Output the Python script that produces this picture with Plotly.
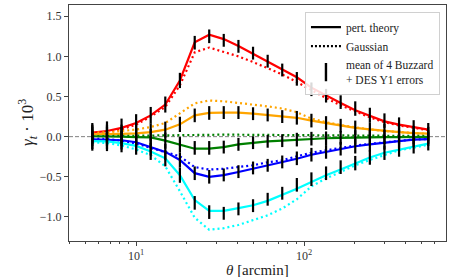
import plotly.graph_objects as go

theta = [5.48, 6.70, 8.18, 9.99, 12.2, 14.9, 18.2, 22.3, 27.2, 33.2, 40.6, 49.6,
         60.6, 74.0, 90.4, 110.4, 134.9, 164.8, 201.3, 245.9, 300.4, 366.9, 448.2, 547.5]

red_pt = [0.05, 0.07, 0.11, 0.17, 0.265, 0.40, 0.70, 1.175, 1.27, 1.215, 1.13, 1.03,
          0.94, 0.84, 0.74, 0.61, 0.51, 0.42, 0.33, 0.26, 0.19, 0.15, 0.115, 0.087]
red_g = [0.04, 0.06, 0.09, 0.15, 0.25, 0.37, 0.64, 1.05, 1.11, 1.06, 1.00, 0.93,
         0.85, 0.775, 0.68, 0.575, 0.48, 0.39, 0.31, 0.24, 0.18, 0.14, 0.11, 0.08]
red_mean = [0.05, 0.07, 0.11, 0.17, 0.265, 0.40, 0.70, 1.17, 1.25, 1.20, 1.125, 1.04,
            0.94, 0.83, 0.72, 0.59, 0.51, 0.43, 0.35, 0.27, 0.20, 0.15, 0.115, 0.085]

orange_pt = [0.03, 0.03, 0.035, 0.04, 0.057, 0.087, 0.153, 0.265, 0.295, 0.30, 0.30, 0.286,
             0.27, 0.25, 0.235, 0.20, 0.17, 0.137, 0.11, 0.09, 0.07, 0.057, 0.045, 0.037]
orange_g = [0.05, 0.055, 0.07, 0.088, 0.12, 0.17, 0.29, 0.415, 0.45, 0.44, 0.42, 0.40,
            0.377, 0.35, 0.305, 0.225, 0.18, 0.145, 0.115, 0.09, 0.07, 0.055, 0.045, 0.035]
orange_mean = orange_pt

green_pt = [0.005, 0.005, 0.0, -0.005, -0.01, -0.05, -0.10, -0.15, -0.15, -0.13, -0.096, -0.075,
            -0.058, -0.05, -0.037, -0.025, -0.02, -0.015, -0.01, -0.008, -0.006, -0.005, -0.005, -0.004]
green_g = [0.005, 0.008, 0.01, 0.013, 0.017, 0.02, 0.022, 0.025, 0.025, 0.025, 0.024, 0.022,
           0.02, 0.02, 0.018, 0.017, 0.015, 0.014, 0.012, 0.011, 0.01, 0.01, 0.009, 0.008]
green_mean = [0.005, 0.005, 0.0, -0.005, -0.01, -0.05, -0.10, -0.14, -0.14, -0.13, -0.096, -0.075,
              -0.058, -0.05, -0.037, -0.025, -0.02, -0.015, -0.01, -0.008, -0.006, -0.005, -0.005, -0.004]

blue_pt = [-0.034, -0.035, -0.045, -0.07, -0.13, -0.19, -0.29, -0.455, -0.50, -0.48, -0.44, -0.40,
           -0.36, -0.32, -0.275, -0.225, -0.19, -0.15, -0.12, -0.096, -0.071, -0.055, -0.037, -0.03]
blue_g = [-0.025, -0.03, -0.05, -0.085, -0.14, -0.19, -0.245, -0.38, -0.41, -0.40, -0.38, -0.357,
          -0.32, -0.295, -0.245, -0.20, -0.17, -0.14, -0.11, -0.09, -0.07, -0.05, -0.035, -0.03]
blue_mean = [-0.034, -0.035, -0.045, -0.07, -0.13, -0.19, -0.29, -0.456, -0.50, -0.477, -0.436, -0.39,
             -0.357, -0.315, -0.27, -0.225, -0.19, -0.15, -0.12, -0.096, -0.071, -0.055, -0.037, -0.03]

cyan_pt = [-0.055, -0.06, -0.08, -0.115, -0.185, -0.27, -0.48, -0.79, -0.925, -0.925, -0.89, -0.855,
           -0.80, -0.73, -0.65, -0.565, -0.48, -0.41, -0.33, -0.26, -0.20, -0.16, -0.12, -0.087]
cyan_g = [-0.07, -0.08, -0.11, -0.16, -0.23, -0.37, -0.68, -1.01, -1.16, -1.14, -1.10, -1.04,
          -0.98, -0.895, -0.78, -0.62, -0.52, -0.44, -0.357, -0.29, -0.225, -0.17, -0.137, -0.10]
cyan_mean = [-0.055, -0.06, -0.08, -0.115, -0.185, -0.27, -0.48, -0.825, -0.94, -0.955, -0.90, -0.86,
             -0.78, -0.705, -0.60, -0.53, -0.456, -0.38, -0.33, -0.26, -0.20, -0.16, -0.12, -0.087]

err = [0.12, 0.12, 0.115, 0.11, 0.105, 0.10, 0.095, 0.085, 0.085, 0.08, 0.08, 0.08,
       0.08, 0.08, 0.085, 0.085, 0.085, 0.085, 0.09, 0.09, 0.09, 0.09, 0.09, 0.085]

series = [
    ("red", red_pt, red_g, red_mean),
    ("orange", orange_pt, orange_g, orange_mean),
    ("green", green_pt, green_g, green_mean),
    ("blue", blue_pt, blue_g, blue_mean),
    ("cyan", cyan_pt, cyan_g, cyan_mean),
]
colors = {"red": "#ff0000", "orange": "#ffa500", "green": "#008000", "blue": "#0000ff", "cyan": "#00ffff"}

FONT = "Liberation Serif, DejaVu Serif, serif"
fig = go.Figure()

for name, pt, g, mean in series:
    c = colors[name]
    fig.add_trace(go.Scatter(x=theta, y=g, mode="lines", showlegend=False,
                             line=dict(color=c, width=2.2, dash="2px,3px")))
    fig.add_trace(go.Scatter(x=theta, y=pt, mode="lines", showlegend=False,
                             line=dict(color=c, width=2.2)))

for name, pt, g, mean in series:
    fig.add_trace(go.Scatter(x=theta, y=mean, mode="markers", showlegend=False,
                             marker=dict(size=1, color="rgba(0,0,0,0)"),
                             error_y=dict(type="data", array=err, visible=True,
                                          color="black", thickness=2.2, width=0)))

# legend entries
fig.add_trace(go.Scatter(x=[None], y=[None], mode="lines", name="pert. theory",
                         line=dict(color="black", width=2.2)))
fig.add_trace(go.Scatter(x=[None], y=[None], mode="lines", name="Gaussian",
                         line=dict(color="black", width=2.2, dash="2px,2px")))
fig.add_trace(go.Scatter(x=[None], y=[None], mode="markers",
                         name="mean of 4 Buzzard<br>+ DES Y1 errors",
                         marker=dict(symbol="line-ns", size=13, color="black",
                                     line=dict(color="black", width=2.4))))

fig.add_shape(type="line", xref="paper", x0=0, x1=1, yref="y", y0=0, y1=0,
              line=dict(color="#808080", width=1, dash="4px,2px"), layer="below")

minor_vals = [4, 5, 6, 7, 8, 9, 20, 30, 40, 50, 60, 70, 80, 90, 200, 300, 400, 500, 600]

fig.update_xaxes(type="log", range=[0.600, 2.844], automargin=False,
                 tickvals=[10, 100], ticktext=["10<sup>1</sup>", "10<sup>2</sup>"],
                 ticks="outside", ticklen=4, tickwidth=1, tickcolor="#444",
                 minor=dict(tickvals=minor_vals, ticks="outside", ticklen=2, tickcolor="#444", tickwidth=1),
                 showgrid=False, zeroline=False, showline=True, linecolor="#444", linewidth=1, mirror=True,
                 tickfont=dict(family=FONT, size=12, color="#333"))
fig.update_yaxes(range=[-1.30, 1.64], automargin=False,
                 tickvals=[-1.0, -0.5, 0.0, 0.5, 1.0, 1.5], tickformat=".1f",
                 ticks="outside", ticklen=4, tickwidth=1, tickcolor="#444",
                 showgrid=False, zeroline=False, showline=True, linecolor="#444", linewidth=1, mirror=True,
                 tickfont=dict(family=FONT, size=12, color="#333"))

fig.add_annotation(text="<i>θ</i> [arcmin]", xref="paper", yref="paper", x=0.5, y=0,
                   yshift=-29, xanchor="center", yanchor="middle", showarrow=False,
                   font=dict(family=FONT, size=15, color="#222"))
fig.add_annotation(text="<i>γ</i><sub><i>t</i></sub> · 10<sup>3</sup>", xref="paper", yref="paper",
                   x=0, y=0.5, xshift=-42, xanchor="center", yanchor="middle", showarrow=False,
                   textangle=-90, font=dict(family=FONT, size=17, color="#222"))

fig.update_layout(
    width=461, height=277,
    margin=dict(l=69, r=15, t=5, b=36),
    paper_bgcolor="white", plot_bgcolor="white",
    showlegend=True,
    legend=dict(x=0.984, y=0.972, xanchor="right", yanchor="top",
                bgcolor="rgba(255,255,255,0.85)", bordercolor="#d0d0d0", borderwidth=1,
                font=dict(family=FONT, size=11.5, color="#222"),
                itemwidth=30, tracegroupgap=0),
)

fig.write_html("out.html", config={"displayModeBar": False},
               post_script="document.body.style.margin='0';document.body.style.overflow='hidden';")
